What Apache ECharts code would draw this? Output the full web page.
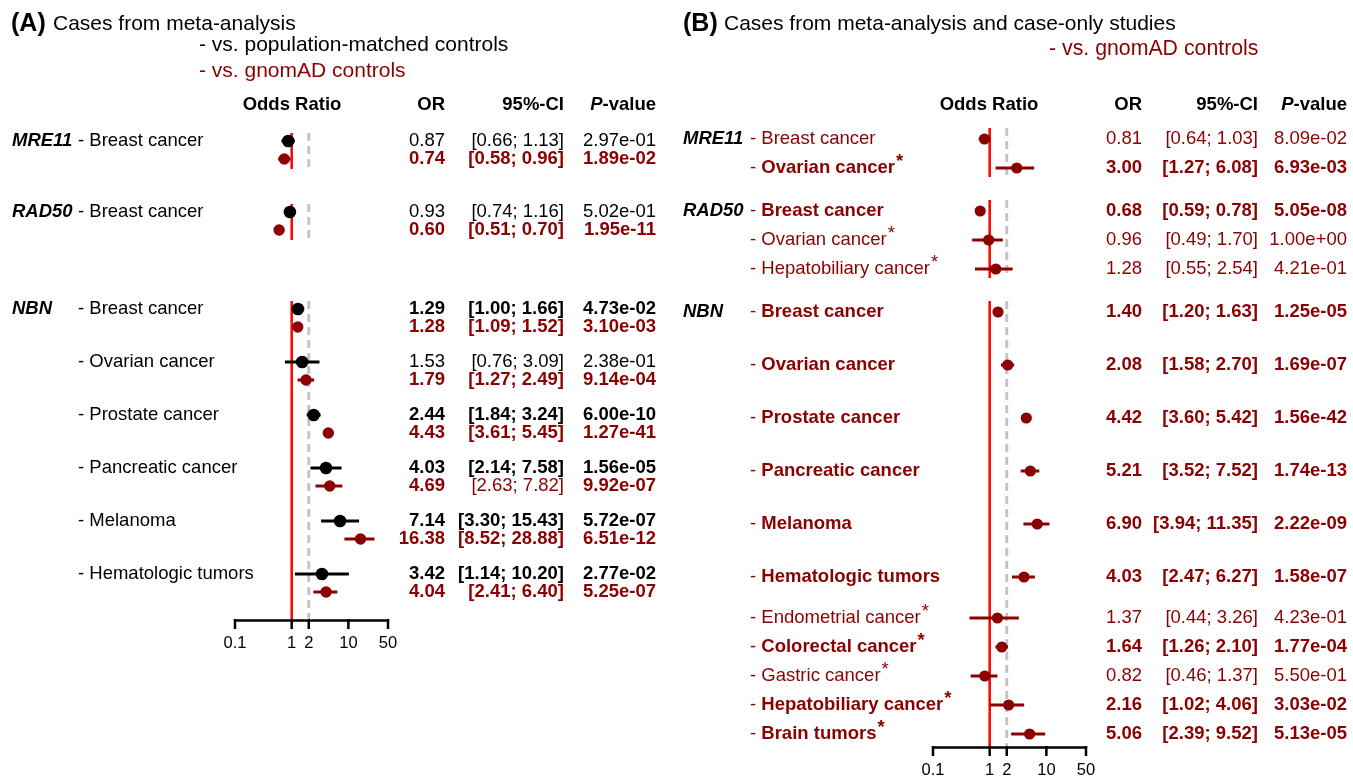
<!DOCTYPE html>
<html><head><meta charset="utf-8">
<script src="https://cdn.jsdelivr.net/npm/echarts@6/dist/echarts.min.js"></script>
<style>html,body{margin:0;padding:0;background:#fff}#c{width:1353px;height:777px}</style>
</head><body><div id="c"></div>
<script>
// ---------------- DATA ----------------
// Panel A: cases from meta-analysis
const aGenes   = ['MRE11','RAD50','NBN','NBN','NBN','NBN','NBN','NBN'];
const aCancers = ['Breast cancer','Breast cancer','Breast cancer','Ovarian cancer','Prostate cancer','Pancreatic cancer','Melanoma','Hematologic tumors'];
// vs. population-matched controls
const aPopOR = [0.87, 0.93, 1.29, 1.53, 2.44, 4.03, 7.14, 3.42];
const aPopLo = [0.66, 0.74, 1.00, 0.76, 1.84, 2.14, 3.30, 1.14];
const aPopHi = [1.13, 1.16, 1.66, 3.09, 3.24, 7.58, 15.43, 10.20];
const aPopP  = [2.97e-1, 5.02e-1, 4.73e-2, 2.38e-1, 6.00e-10, 1.56e-5, 5.72e-7, 2.77e-2];
// vs. gnomAD controls
const aGnomOR = [0.74, 0.60, 1.28, 1.79, 4.43, 4.69, 16.38, 4.04];
const aGnomLo = [0.58, 0.51, 1.09, 1.27, 3.61, 2.63, 8.52, 2.41];
const aGnomHi = [0.96, 0.70, 1.52, 2.49, 5.45, 7.82, 28.88, 6.40];
const aGnomP  = [1.89e-2, 1.95e-11, 3.10e-3, 9.14e-4, 1.27e-41, 9.92e-7, 6.51e-12, 5.25e-7];

// Panel B: cases from meta-analysis and case-only studies vs. gnomAD
const bGenes   = ['MRE11','MRE11','RAD50','RAD50','RAD50','NBN','NBN','NBN','NBN','NBN','NBN','NBN','NBN','NBN','NBN','NBN'];
const bCancers = ['Breast cancer','Ovarian cancer','Breast cancer','Ovarian cancer','Hepatobiliary cancer','Breast cancer','Ovarian cancer','Prostate cancer','Pancreatic cancer','Melanoma','Hematologic tumors','Endometrial cancer','Colorectal cancer','Gastric cancer','Hepatobiliary cancer','Brain tumors'];
const bCaseOnly = [false,true,false,true,true,false,false,false,false,false,false,true,true,true,true,true];
const bOR = [0.81, 3.00, 0.68, 0.96, 1.28, 1.40, 2.08, 4.42, 5.21, 6.90, 4.03, 1.37, 1.64, 0.82, 2.16, 5.06];
const bLo = [0.64, 1.27, 0.59, 0.49, 0.55, 1.20, 1.58, 3.60, 3.52, 3.94, 2.47, 0.44, 1.26, 0.46, 1.02, 2.39];
const bHi = [1.03, 6.08, 0.78, 1.70, 2.54, 1.63, 2.70, 5.42, 7.52, 11.35, 6.27, 3.26, 2.10, 1.37, 4.06, 9.52];
const bP  = [8.09e-2, 6.93e-3, 5.05e-8, 1.00e0, 4.21e-1, 1.25e-5, 1.69e-7, 1.56e-42, 1.74e-13, 2.22e-9, 1.58e-7, 4.23e-1, 1.77e-4, 5.50e-1, 3.03e-2, 5.13e-5];

// axis
const xTicks = [0.1, 1, 2, 10, 50];
const xMin = 0.1, xMax = 50;
const nullOR = 1, dashOR = 2;

// ---------------- STYLE / LAYOUT ----------------
const FONT = "'Liberation Sans', Arial, Helvetica, sans-serif";
const BLACK = '#000000', DARK = '#8b0000', RED = '#ff0000', GREY = '#c4c4c4';
const FS = 18.5;
const LA = {left:235, width:153, axisY:620, firstY:141, step:53, gnomOff:18, geneGaps:[71,97],
            geneX:12, labelX:78, orX:445, ciX:564, pX:656, oddsX:292, headY:105, segTop:8, segBot:10};
const LB = {left:933, width:153, axisY:747, firstY:139, mainStep:53, subStep:29, mainToSub:41, geneGap:43,
            geneX:683, labelX:750, orX:1142, ciX:1258, pX:1347, oddsX:989, headY:105, segTop:11, segBot:9};
const aGnomCiPlain = new Set([5]); // CI cell drawn in plain weight in the reference

// row positions (layout)
const aY = [];
{ let y = LA.firstY, gi = 0;
  aGenes.forEach((g, i) => { if (i > 0) y += (g !== aGenes[i-1]) ? LA.geneGaps[gi++] : LA.step; aY.push(y); }); }
const bIsMain = i => bGenes[i] === 'NBN' && !bCaseOnly[i];
const bY = [];
{ let y = LB.firstY;
  bGenes.forEach((g, i) => {
    if (i > 0) {
      if (g !== bGenes[i-1]) y += LB.geneGap;
      else if (bIsMain(i-1) && bIsMain(i)) y += LB.mainStep;
      else if (bIsMain(i-1)) y += LB.mainToSub;
      else y += LB.subStep;
    }
    bY.push(y);
  }); }

function segments(genes, ys, lastOff, L) {
  const segs = []; let start = 0;
  for (let i = 1; i <= genes.length; i++) {
    if (i === genes.length || genes[i] !== genes[i-1]) {
      const y0 = ys[start] - L.segTop;
      const y1 = (i === genes.length) ? L.axisY : ys[i-1] + lastOff + L.segBot;
      segs.push([nullOR, y0, y1]);
      start = i;
    }
  }
  return segs;
}

function fmtP(p) {
  return p.toExponential(2).replace(/e([+-])(\d+)$/, (m, s, d) => 'e' + s + (d.length < 2 ? '0' + d : d));
}
const fmtOR = v => v.toFixed(2);
const fmtCI = (lo, hi) => '[' + lo.toFixed(2) + '; ' + hi.toFixed(2) + ']';

// ---------------- TEXT ----------------
const G = [];
function txt(x, y, text, o) {
  o = o || {};
  const color = o.color || BLACK, align = o.align || 'left';
  const st = {text: text, x: 0, y: 0, fill: color, textFill: color, fontSize: o.size || FS,
    fontWeight: o.bold ? 'bold' : 'normal', fontStyle: o.italic ? 'italic' : 'normal', fontFamily: FONT,
    align: align, textAlign: align, verticalAlign: 'middle', textVerticalAlign: 'middle'};
  if (o.rich) st.rich = o.rich;
  G.push({type: 'text', x: x, y: y, silent: true, style: st});
}
function rs(color, bold, extra) {
  return Object.assign({fill: color, textFill: color, color: color, fontSize: FS, fontFamily: FONT,
    fontWeight: bold ? 'bold' : 'normal'}, extra || {});
}

// Titles
txt(11, 24, '(A)', {bold: true, size: 25});
txt(53, 24, 'Cases from meta-analysis', {size: 21});
txt(199, 45, '- vs. population-matched controls', {size: 21});
txt(199, 71, '- vs. gnomAD controls', {size: 21, color: DARK});
txt(683, 24, '(B)', {bold: true, size: 25});
txt(724, 24, 'Cases from meta-analysis and case-only studies', {size: 21});
txt(1049, 49, '- vs. gnomAD controls', {size: 21.3, color: DARK});

// Headers
[LA, LB].forEach(L => {
  txt(L.oddsX, L.headY, 'Odds Ratio', {bold: true, align: 'center'});
  txt(L.orX, L.headY, 'OR', {bold: true, align: 'right'});
  txt(L.ciX, L.headY, '95%-CI', {bold: true, align: 'right'});
  txt(L.pX, L.headY, '{i|P}{b|-value}', {align: 'right', rich: {
    i: rs(BLACK, true, {fontStyle: 'italic'}), b: rs(BLACK, true)}});
});

// Panel A rows
aGenes.forEach((g, i) => {
  if (i === 0 || g !== aGenes[i-1]) txt(LA.geneX, aY[i], g, {bold: true, italic: true});
  txt(LA.labelX, aY[i], '- ' + aCancers[i]);
  const pb = aPopP[i] < 0.05;
  txt(LA.orX, aY[i], fmtOR(aPopOR[i]), {align: 'right', bold: pb});
  txt(LA.ciX, aY[i], fmtCI(aPopLo[i], aPopHi[i]), {align: 'right', bold: pb});
  txt(LA.pX, aY[i], fmtP(aPopP[i]), {align: 'right', bold: pb});
  const yr = aY[i] + LA.gnomOff, gb = aGnomP[i] < 0.05;
  txt(LA.orX, yr, fmtOR(aGnomOR[i]), {align: 'right', bold: gb, color: DARK});
  txt(LA.ciX, yr, fmtCI(aGnomLo[i], aGnomHi[i]), {align: 'right', bold: gb && !aGnomCiPlain.has(i), color: DARK});
  txt(LA.pX, yr, fmtP(aGnomP[i]), {align: 'right', bold: gb, color: DARK});
});

// Panel B rows
bGenes.forEach((g, i) => {
  const y = bY[i], b = bP[i] < 0.05;
  if (i === 0 || g !== bGenes[i-1]) txt(LB.geneX, y, g, {bold: true, italic: true});
  const t = '{d|- }{n|' + bCancers[i] + '}' + (bCaseOnly[i] ? '{s|*}' : '');
  txt(LB.labelX, y, t, {color: DARK, rich: {
    d: rs(DARK, false), n: rs(DARK, b), s: rs(DARK, b, {padding: [0, 0, 12, 1]})}});
  txt(LB.orX, y, fmtOR(bOR[i]), {align: 'right', bold: b, color: DARK});
  txt(LB.ciX, y, fmtCI(bLo[i], bHi[i]), {align: 'right', bold: b, color: DARK});
  txt(LB.pX, y, fmtP(bP[i]), {align: 'right', bold: b, color: DARK});
});

// ---------------- SERIES ----------------
function refSeries(idx, data) {
  return {type: 'custom', xAxisIndex: idx, yAxisIndex: idx, clip: false, silent: true, z: 1,
    encode: {x: 0, y: [1, 2]}, data: data,
    renderItem: (params, api) => {
      const y0 = api.value(1), y1 = api.value(2);
      const d0 = api.coord([dashOR, y0]), d1 = api.coord([dashOR, y1]);
      const r0 = api.coord([api.value(0), y0]), r1 = api.coord([api.value(0), y1]);
      return {type: 'group', children: [
        {type: 'line', shape: {x1: d0[0], y1: d0[1], x2: d1[0], y2: d1[1]},
         style: {stroke: GREY, lineWidth: 3, lineDash: [8, 5]}},
        {type: 'line', shape: {x1: r0[0], y1: r0[1], x2: r1[0], y2: r1[1]},
         style: {stroke: RED, lineWidth: 2.5}}
      ]};
    }};
}
function ciSeries(idx, data, color, r) {
  return {type: 'custom', xAxisIndex: idx, yAxisIndex: idx, clip: false, silent: true, z: 3,
    encode: {x: [0, 2, 3], y: 1}, data: data,
    renderItem: (params, api) => {
      const y = api.value(1);
      const p = api.coord([api.value(0), y]);
      const lo = api.coord([api.value(2), y]);
      const hi = api.coord([api.value(3), y]);
      return {type: 'group', children: [
        {type: 'line', shape: {x1: lo[0], y1: lo[1], x2: hi[0], y2: hi[1]}, style: {stroke: color, lineWidth: 3}},
        {type: 'circle', shape: {cx: p[0], cy: p[1], r: r}, style: {fill: color}}
      ]};
    }};
}
function tickSeries(idx, axisY) {
  return {type: 'custom', xAxisIndex: idx, yAxisIndex: idx, clip: false, silent: true, z: 2,
    encode: {x: 0, y: 1}, data: xTicks.map(v => [v, axisY]),
    renderItem: (params, api) => {
      const p = api.coord([api.value(0), api.value(1)]);
      return {type: 'group', children: [
        {type: 'line', shape: {x1: p[0], y1: p[1] - 1, x2: p[0], y2: p[1] + 9}, style: {stroke: BLACK, lineWidth: 2.5}},
        {type: 'text', x: p[0], y: p[1] + 23, style: {text: String(api.value(0)), fill: BLACK, textFill: BLACK,
          fontSize: 16.5, fontFamily: FONT, align: 'center', textAlign: 'center',
          verticalAlign: 'middle', textVerticalAlign: 'middle'}}
      ]};
    }};
}

const xAxisCfg = idx => ({type: 'log', logBase: 10, gridIndex: idx, min: xMin, max: xMax,
  axisLine: {show: true, onZero: false, lineStyle: {color: BLACK, width: 2.5}},
  axisTick: {show: false}, axisLabel: {show: false}, splitLine: {show: false}, minorTick: {show: false}});
const yAxisCfg = (idx, L) => ({type: 'value', gridIndex: idx, min: 0, max: L.axisY, inverse: true, show: false,
  splitLine: {show: false}});

const option = {
  animation: false,
  backgroundColor: '#ffffff',
  grid: [
    {left: LA.left, width: LA.width, top: 0, height: LA.axisY},
    {left: LB.left, width: LB.width, top: 0, height: LB.axisY}
  ],
  xAxis: [xAxisCfg(0), xAxisCfg(1)],
  yAxis: [yAxisCfg(0, LA), yAxisCfg(1, LB)],
  graphic: {elements: G},
  series: [
    refSeries(0, segments(aGenes, aY, LA.gnomOff, LA)),
    refSeries(1, segments(bGenes, bY, 0, LB)),
    tickSeries(0, LA.axisY),
    tickSeries(1, LB.axisY),
    ciSeries(0, aPopOR.map((v, i) => [v, aY[i], aPopLo[i], aPopHi[i]]), BLACK, 6.3),
    ciSeries(0, aGnomOR.map((v, i) => [v, aY[i] + LA.gnomOff, aGnomLo[i], aGnomHi[i]]), DARK, 5.7),
    ciSeries(1, bOR.map((v, i) => [v, bY[i], bLo[i], bHi[i]]), DARK, 5.6)
  ]
};
const chart = echarts.init(document.getElementById('c'), null, {renderer: 'canvas'});
chart.setOption(option);
</script></body></html>
